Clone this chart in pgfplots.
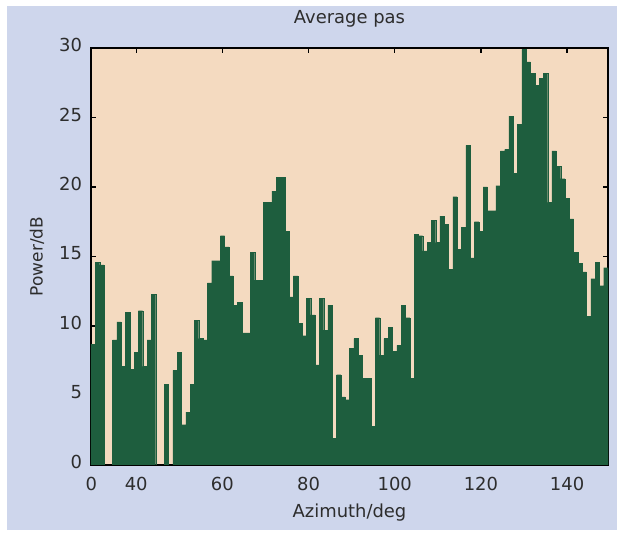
\documentclass[border=0pt]{standalone}
\usepackage{pgfplots}
\pgfplotsset{compat=1.18}
\usepackage{pgfplotstable}
\usepackage{fontspec}
\setmainfont{DejaVu Sans}
\definecolor{bgcol}{RGB}{206,214,236}
\definecolor{plotbg}{RGB}{244,218,192}
\definecolor{barcol}{RGB}{30,94,62}
\definecolor{txt}{RGB}{45,45,45}
\pgfplotstableread{
x y
30 8.7
31 14.6
32 14.4
33 0
34 0
35 9.0
36 10.3
37 7.1
38 11.0
39 6.9
40 8.1
41 11.1
42 7.1
43 9.0
44 12.3
45 0
46 0
47 5.8
48 0
49 6.8
50 8.1
51 2.9
52 3.8
53 5.8
54 10.4
55 9.1
56 9.0
57 13.1
58 14.7
59 14.7
60 16.5
61 15.7
62 13.6
63 11.5
64 11.7
65 9.5
66 9.5
67 15.3
68 13.3
69 13.3
70 18.9
71 18.9
72 19.7
73 20.7
74 20.7
75 16.8
76 12.1
77 13.6
78 10.2
79 9.3
80 12.0
81 10.8
82 7.2
83 12.0
84 9.7
85 11.5
86 1.9
87 6.5
88 4.9
89 4.7
90 8.4
91 9.1
92 7.9
93 6.25
94 6.25
95 2.8
96 10.6
97 7.9
98 9.1
99 9.9
100 8.2
101 8.6
102 11.5
103 10.6
104 6.25
105 16.6
106 16.5
107 15.4
108 16.0
109 17.6
110 16.0
111 17.9
112 17.3
113 14.1
114 19.3
115 15.5
116 17.1
117 23.0
118 14.9
119 17.5
120 16.8
121 20.0
122 18.3
123 18.3
124 20.1
125 22.6
126 22.7
127 25.1
128 21.0
129 24.5
130 29.9
131 29.0
132 28.2
133 27.3
134 27.8
135 28.2
136 18.9
137 22.6
138 21.5
139 20.6
140 19.2
141 17.7
142 15.3
143 14.5
144 13.9
145 10.7
146 13.4
147 14.6
148 12.9
149 14.2
}\datatable
\begin{document}
\begin{tikzpicture}[x=1bp,y=1bp]
\fill[white] (0,0) rectangle (311,267.5);
\fill[bgcol] (3.5,2.5) rectangle (308.5,264.5);
\begin{axis}[
  at={(45.5bp,35bp)}, anchor=south west,
  scale only axis, width=258.5bp, height=208.5bp,
  xmin=29.5, xmax=149.5, ymin=0, ymax=30,
  axis background/.style={fill=plotbg},
  xtick={29.6,40,60,80,100,120,140},
  xticklabels={0,40,60,80,100,120,140},
  ytick={0,5,...,30},
  tick align=inside, tick pos=both,
  major tick length=2.5bp,
  axis line style={line width=0.6pt, black},
  every tick/.style={black, line width=0.7pt},
  ticklabel style={font=\fontsize{9}{10}\selectfont, text=txt},
  /pgf/number format/assume math mode=true,
  xticklabel style={anchor=base, yshift=-12.5bp},
  yticklabel style={anchor=east, xshift=-1bp, yshift=1.5bp},
  title={Average pas},
  title style={font=\fontsize{9}{10}\selectfont, text=txt, at={(0.5,1)}, anchor=base, yshift=6.5bp},
  xlabel={Azimuth/deg},
  xlabel style={font=\fontsize{9}{10}\selectfont, text=txt, at={(0.5,0)}, anchor=base, yshift=-26bp},
  ylabel={Power/dB},
  ylabel style={font=\fontsize{8.5}{10}\selectfont, text=txt, at={(0,0.5)}, anchor=center, yshift=27bp},
]
\addplot[ybar, bar width=1, fill=barcol, draw=barcol, line width=0.1pt] table[x=x,y=y]{\datatable};
\end{axis}
\end{tikzpicture}
\end{document}
